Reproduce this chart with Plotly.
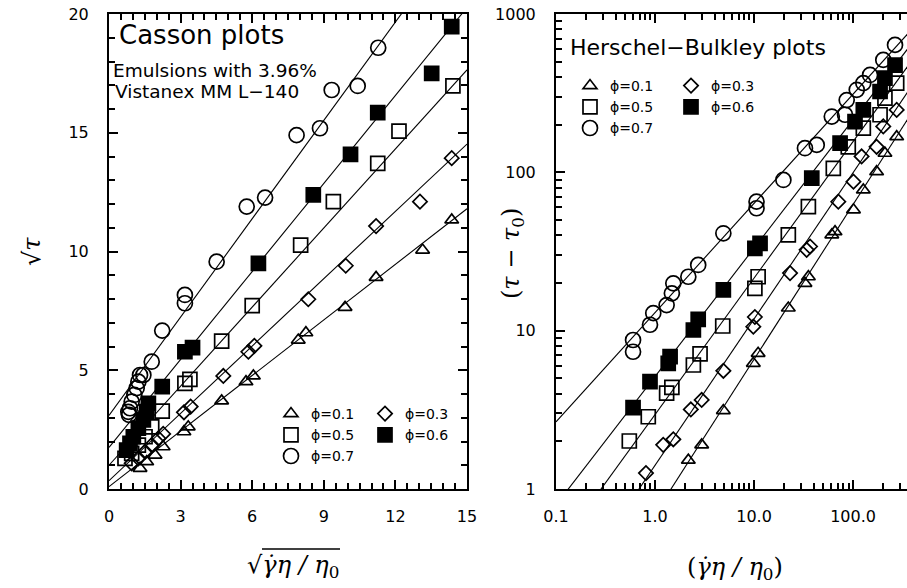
import numpy as np
import plotly.graph_objects as go

W, H = 907, 588

phi_labels = ["ϕ=0.1", "ϕ=0.3", "ϕ=0.5", "ϕ=0.6", "ϕ=0.7"]
symbols = ["triangle-up-open", "diamond-open", "square-open", "square", "circle-open"]
marker_sizes = [12, 11, 14, 14, 15]

# ---- Casson coordinates: x = sqrt(gamma_dot*eta/eta0), y = sqrt(tau) ----
cas_x_p01 = [1.30, 1.58, 1.93, 2.27, 3.14, 3.32, 4.72, 5.74, 6.05, 7.93, 8.25, 9.89, 11.19, 13.14, 14.36]
cas_y_p01 = [0.87, 1.15, 1.43, 1.78, 2.41, 2.62, 3.71, 4.52, 4.76, 6.27, 6.58, 7.65, 8.91, 10.06, 11.33]

cas_x_p03 = [0.95, 1.23, 1.51, 1.79, 2.07, 2.27, 3.14, 3.42, 4.79, 5.84, 6.09, 8.35, 9.92, 11.19, 13.03, 14.36]
cas_y_p03 = [1.08, 1.29, 1.57, 1.85, 2.13, 2.32, 3.23, 3.47, 4.76, 5.78, 6.03, 7.99, 9.40, 11.07, 12.10, 13.93]

cas_x_p05 = [0.67, 0.95, 1.23, 1.51, 1.79, 2.23, 3.18, 3.39, 4.72, 6.00, 8.03, 9.40, 11.26, 12.15, 14.41]
cas_y_p05 = [1.29, 1.50, 1.85, 2.20, 2.62, 3.28, 4.45, 4.62, 6.23, 7.72, 10.27, 12.10, 13.71, 15.07, 16.97]

cas_x_p06 = [0.74, 0.88, 1.02, 1.23, 1.44, 1.58, 1.65, 2.23, 3.18, 3.50, 6.26, 8.56, 10.12, 11.26, 13.52, 14.36]
cas_y_p06 = [1.64, 1.92, 2.20, 2.56, 2.91, 3.26, 3.61, 4.31, 5.78, 5.95, 9.50, 12.38, 14.09, 15.85, 17.50, 19.47]

cas_x_p07 = [0.81, 0.84, 0.88, 0.95, 1.06, 1.16, 1.23, 1.30, 1.44, 1.79, 2.23, 3.18, 3.18, 4.51, 5.77, 6.54, 7.86, 8.84, 9.33, 10.42, 11.28]
cas_y_p07 = [3.25, 3.12, 3.40, 3.68, 3.96, 4.25, 4.52, 4.80, 4.80, 5.36, 6.67, 7.82, 8.17, 9.57, 11.89, 12.27, 14.90, 15.19, 16.80, 16.97, 18.58]

# Casson fit lines: sqrt(tau) = a + b*x
cas_intercept = [0.10, 0.35, 1.00, 1.75, 3.10]
cas_slope = [0.78, 0.945, 1.11, 1.235, 1.38]

# ---- Herschel-Bulkley coordinates: x = gamma_dot*eta/eta0, y = tau - tau0 ----
hb_x_p01 = [2.17, 2.96, 4.9, 9.84, 11.0, 22.2, 32.7, 35.4, 61, 65.8, 101, 127, 173, 210, 276]
hb_y_p01 = [1.52, 1.90, 3.13, 6.22, 7.19, 13.9, 19.9, 21.9, 40.3, 42.2, 58, 77.4, 101, 132, 168]

hb_x_p03 = [0.81, 1.21, 1.53, 2.30, 2.96, 4.9, 9.84, 10.2, 23.1, 34, 36.8, 71, 101, 122, 173, 202, 276]
hb_y_p03 = [1.26, 1.90, 2.06, 3.18, 3.65, 5.58, 10.6, 12.2, 23.1, 32.4, 34, 65.3, 87.3, 126, 145, 195, 248]

hb_x_p05 = [0.55, 0.855, 1.31, 1.48, 2.44, 2.85, 4.83, 10.2, 11.0, 22.2, 35.4, 63.2, 89.5, 127, 187.5, 210, 276]
hb_y_p05 = [2.01, 2.86, 4.03, 4.39, 6.07, 7.13, 10.7, 18.5, 21.9, 40.3, 60.7, 106, 145, 190, 231, 294, 366]

hb_x_p06 = [0.60, 0.89, 1.36, 1.42, 2.44, 2.73, 4.9, 10.2, 11.5, 38.3, 74, 104.7, 127, 187.5, 210, 265.5]
hb_y_p06 = [3.27, 4.76, 6.22, 6.85, 10.1, 11.8, 18.1, 33.1, 35.6, 91.8, 153, 209, 248, 324, 393, 476]

hb_x_p07 = [0.60, 0.60, 0.89, 0.96, 1.31, 1.48, 1.53, 2.17, 2.73, 4.9, 10.6, 10.6, 19.8, 32.7, 43, 61, 83, 86.3, 109, 127, 148.6, 202, 265.5]
hb_y_p07 = [7.36, 8.73, 10.9, 12.9, 14.5, 17.2, 19.9, 21.9, 26.0, 41.2, 59.3, 65.3, 89.5, 142, 149, 225, 231, 286, 332, 366, 412, 513, 638]

# Herschel-Bulkley fit lines: tau - tau0 = k * x^n
hb_k = [0.695, 1.41, 2.95, 5.13, 13.0]
hb_n = [0.977, 0.924, 0.862, 0.811, 0.69]

cas_x = [cas_x_p01, cas_x_p03, cas_x_p05, cas_x_p06, cas_x_p07]
cas_y = [cas_y_p01, cas_y_p03, cas_y_p05, cas_y_p06, cas_y_p07]
hb_x = [hb_x_p01, hb_x_p03, hb_x_p05, hb_x_p06, hb_x_p07]
hb_y = [hb_y_p01, hb_y_p03, hb_y_p05, hb_y_p06, hb_y_p07]

# first legend column holds phi = 0.1, 0.5, 0.7; second column phi = 0.3, 0.6
left_legends = ["legend", "legend2", "legend", "legend2", "legend"]
right_legends = ["legend3", "legend4", "legend3", "legend4", "legend3"]

fig = go.Figure()

line_style = dict(color="black", width=1.1)
xs_lin = np.linspace(0, 15, 50)
xs_log = np.logspace(-1, 2.6, 80)

for i in range(5):
    fig.add_trace(go.Scatter(
        x=xs_lin, y=cas_intercept[i] + cas_slope[i] * xs_lin,
        mode="lines", line=line_style, showlegend=False, hoverinfo="skip",
        xaxis="x", yaxis="y"))
    fig.add_trace(go.Scatter(
        x=xs_log, y=hb_k[i] * xs_log ** hb_n[i],
        mode="lines", line=line_style, showlegend=False, hoverinfo="skip",
        xaxis="x2", yaxis="y2"))

for i in range(5):
    mk = dict(symbol=symbols[i], size=marker_sizes[i], color="black",
              line=dict(color="black", width=1.7))
    fig.add_trace(go.Scatter(
        x=cas_x[i], y=cas_y[i], mode="markers", marker=mk, name=phi_labels[i],
        legend=left_legends[i], xaxis="x", yaxis="y"))
    fig.add_trace(go.Scatter(
        x=hb_x[i], y=hb_y[i], mode="markers", marker=mk, name=phi_labels[i],
        legend=right_legends[i], xaxis="x2", yaxis="y2"))


def px(v):
    return v / W


def py(v):
    return 1 - v / H


tick_font = dict(family="DejaVu Sans", size=16, color="black")
axis_common = dict(
    showline=True, linecolor="black", linewidth=2, showgrid=False, zeroline=False,
    ticks="inside", ticklen=9, tickwidth=2, tickcolor="black", tickfont=tick_font,
    automargin=False, tickmode="linear",
)
minor_common = dict(tickmode="linear", ticks="inside", ticklen=6, tickwidth=1.5,
                    tickcolor="black", showgrid=False)
ydom = [1 - 489 / H, 1 - 14 / H]

legend_font = dict(family="DejaVu Sans", size=14, color="black")


def legend_box(x, y):
    return dict(x=px(x), y=py(y), xref="paper", yref="paper", xanchor="left", yanchor="top",
                bgcolor="rgba(0,0,0,0)", borderwidth=0, font=legend_font,
                tracegroupgap=0, itemclick=False)


fig.update_layout(
    template="none",
    width=W, height=H, autosize=False,
    margin=dict(l=0, r=0, t=0, b=0, pad=0),
    paper_bgcolor="white", plot_bgcolor="white",
    xaxis=dict(domain=[px(109), px(467)], range=[0, 15], tick0=0, dtick=3,
               mirror="ticks", anchor="y", ticklabelstandoff=12,
               minor=dict(tick0=0, dtick=0.5, **minor_common),
               **axis_common),
    yaxis=dict(domain=ydom, range=[0, 20], tick0=0, dtick=5,
               mirror="ticks", anchor="x", ticklabelstandoff=15,
               minor=dict(tick0=0, dtick=1, **minor_common),
               **axis_common),
    xaxis2=dict(domain=[px(556), 1.0], type="log", range=[-1, 2.545],
                tick0=0, dtick=1, tickformat=".1f",
                mirror="ticks", anchor="y2", ticklabelstandoff=12,
                minor=dict(dtick="D1", **minor_common),
                **axis_common),
    yaxis2=dict(domain=ydom, type="log", range=[0, 3],
                tick0=0, dtick=1, tickformat=".0f",
                mirror=False, anchor="x2", ticklabelstandoff=15,
                minor=dict(dtick="D1", **minor_common),
                **axis_common),
    legend=legend_box(271, 398),
    legend2=legend_box(365, 398),
    legend3=legend_box(570, 70),
    legend4=legend_box(671, 70),
)

ann = []
text_font = "DejaVu Sans"
ann.append(dict(text="Casson plots", x=px(117), y=py(35), xanchor="left", yanchor="middle",
                font=dict(family=text_font, size=26, color="black")))
ann.append(dict(text="Emulsions with 3.96%", x=px(111), y=py(70), xanchor="left", yanchor="middle",
                font=dict(family=text_font, size=18.5, color="black")))
ann.append(dict(text="Vistanex MM L−140", x=px(113), y=py(92), xanchor="left", yanchor="middle",
                font=dict(family=text_font, size=18.5, color="black")))
ann.append(dict(text="Herschel−Bulkley plots", x=px(568), y=py(48), xanchor="left", yanchor="middle",
                font=dict(family=text_font, size=22, color="black")))

title_font = dict(family="DejaVu Serif", size=24, color="black")
ann.append(dict(text="√<i>τ</i>", x=px(32), y=py(252), textangle=-90,
                xanchor="center", yanchor="middle", font=title_font))
ann.append(dict(text="√<i>γ̇η / η</i><sub>0</sub>",
                x=px(293), y=py(566), xanchor="center", yanchor="middle", font=title_font))
ann.append(dict(text="(<i>τ</i> − <i>τ</i><sub>0</sub>)", x=px(513), y=py(254), textangle=-90,
                xanchor="center", yanchor="middle", font=title_font))
ann.append(dict(text="(<i>γ̇η / η</i><sub>0</sub>)", x=px(735), y=py(568),
                xanchor="center", yanchor="middle", font=title_font))

for a in ann:
    a.update(xref="paper", yref="paper", showarrow=False)
fig.update_layout(annotations=ann)

# vinculum over the radicand of the Casson abscissa label
fig.add_shape(type="line", xref="paper", yref="paper",
              x0=px(262), x1=px(340), y0=py(549), y1=py(549),
              line=dict(color="black", width=1.3))

fig.write_html("out.html", post_script="document.body.style.margin='0px';")
